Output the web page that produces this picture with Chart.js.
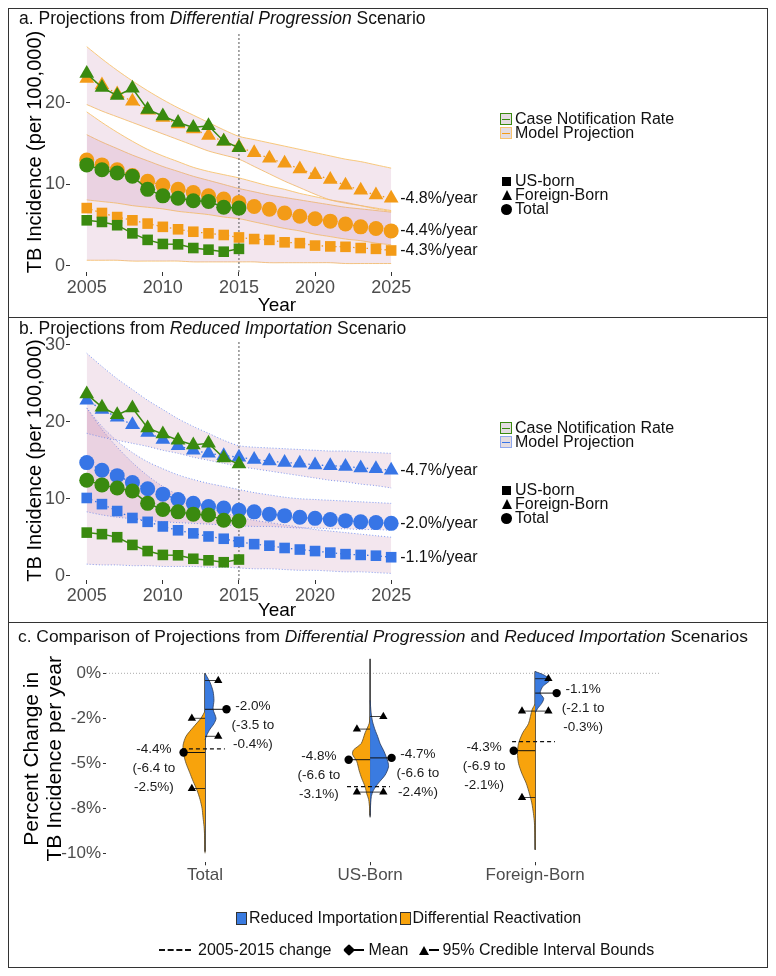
<!DOCTYPE html>
<html>
<head>
<meta charset="utf-8">
<script src="https://cdn.jsdelivr.net/npm/chart.js@4.4.1/dist/chart.umd.min.js"></script>
<style>
  body { margin: 0; background: #fff; font-family: "Liberation Sans", Arial, sans-serif; }
  #page { position: relative; width: 776px; height: 976px; overflow: hidden; }
  canvas { position: absolute; }
  .box { position: absolute; left: 8px; width: 760px; border: 1.5px solid #333; box-sizing: border-box; pointer-events: none; }
  .ttl { position: absolute; white-space: nowrap; color: #111; line-height: 20px; }
  .leg { position: absolute; font-size: 16px; color: #111; white-space: nowrap; }
  .row { display: flex; align-items: center; height: 14px; line-height: 14px; }
  .key { width: 12px; height: 12px; border: 1px solid; margin-right: 3px; position: relative; background: #e4dce1; box-sizing: border-box; }
  .key i { position: absolute; left: 1px; right: 1px; top: 4.5px; height: 1px; }
  .sym { width: 13px; margin-right: 2px; display: flex; justify-content: center; align-items: center; }
  .sq { width: 9px; height: 9px; background: #000; }
  .tri { width: 0; height: 0; border-left: 5.5px solid transparent; border-right: 5.5px solid transparent; border-bottom: 10px solid #000; }
  .dot { width: 11px; height: 11px; border-radius: 50%; background: #000; }
  .fillkey { width: 11px; height: 13px; border: 1px solid #333; box-sizing: border-box; margin-right: 2px; }
</style>
</head>
<body>
<div id="page">
  <canvas id="chartA" width="760" height="309" style="left:8px;top:8px"></canvas>
  <canvas id="chartB" width="760" height="305" style="left:8px;top:317px"></canvas>
  <canvas id="chartC" width="760" height="345" style="left:8px;top:622px"></canvas>

  <div class="box" style="top:8px;height:310px"></div>
  <div class="box" style="top:317px;height:306px"></div>
  <div class="box" style="top:622px;height:346px"></div>

  <div class="ttl" style="left:19px;top:8px;font-size:17.5px">a. Projections from <i>Differential Progression</i> Scenario</div>
  <div class="ttl" style="left:19px;top:318px;font-size:17.5px">b. Projections from <i>Reduced Importation</i> Scenario</div>
  <div class="ttl" style="left:18px;top:626px;font-size:17.4px">c. Comparison of Projections from <i>Differential Progression</i> and <i>Reduced Importation</i> Scenarios</div>

  <div class="leg" style="left:500px;top:112px">
    <div class="row"><span class="key" style="border-color:#3a8a0f"><i style="background:#3a8a0f"></i></span>Case Notification Rate</div>
    <div class="row"><span class="key" style="border-color:#f7c36e"><i style="background:#f39b17"></i></span>Model Projection</div>
  </div>
  <div class="leg" style="left:500px;top:174px">
    <div class="row"><span class="sym"><span class="sq"></span></span>US-born</div>
    <div class="row"><span class="sym"><span class="tri"></span></span>Foreign-Born</div>
    <div class="row"><span class="sym"><span class="dot"></span></span>Total</div>
  </div>

  <div class="leg" style="left:500px;top:421px">
    <div class="row"><span class="key" style="border-color:#3a8a0f"><i style="background:#3a8a0f"></i></span>Case Notification Rate</div>
    <div class="row"><span class="key" style="border-color:#8fa8ee"><i style="background:#3775e6"></i></span>Model Projection</div>
  </div>
  <div class="leg" style="left:500px;top:483px">
    <div class="row"><span class="sym"><span class="sq"></span></span>US-born</div>
    <div class="row"><span class="sym"><span class="tri"></span></span>Foreign-Born</div>
    <div class="row"><span class="sym"><span class="dot"></span></span>Total</div>
  </div>

  <div class="leg" style="left:236px;top:911px">
    <div class="row"><span class="fillkey" style="background:#3a7be0"></span>Reduced Importation<span class="fillkey" style="background:#f8a30c;margin-left:2px"></span>Differential Reactivation</div>
  </div>
  <div class="leg" style="left:159px;top:943px">
    <div class="row">
      <span style="width:32px;border-top:2px dashed #111;margin-right:7px"></span>2005-2015 change
      <span style="margin-left:13px;width:10px;height:10px;background:#000;transform:rotate(45deg) scale(0.85);border-radius:2px"></span>
      <span style="width:10px;height:1.5px;background:#000;margin-right:4px"></span>Mean
      <span class="tri" style="margin-left:11px;border-bottom-width:9px;border-left-width:5px;border-right-width:5px"></span>
      <span style="width:10px;height:1.5px;background:#000;margin-right:3px"></span>95% Credible Interval Bounds
    </div>
  </div>
</div>

<script>
// ---- panels a and b: incidence per 100,000 ----
const years = [2005, 2006, 2007, 2008, 2009, 2010, 2011, 2012, 2013, 2014, 2015,
               2016, 2017, 2018, 2019, 2020, 2021, 2022, 2023, 2024, 2025];
const notifYears = [2005, 2006, 2007, 2008, 2009, 2010, 2011, 2012, 2013, 2014, 2015];

// case notification rates (same in both panels)
const notifUS = [5.6, 5.4, 5.0, 4.0, 3.2, 2.7, 2.65, 2.2, 2.0, 1.75, 2.1];
const notifFB = [23.6, 21.9, 20.9, 21.8, 19.2, 18.4, 17.6, 17.0, 17.2, 15.3, 14.5];
const notifTotal = [12.4, 11.8, 11.4, 11.0, 9.4, 8.6, 8.3, 8.0, 7.9, 7.2, 7.1];

// differential progression projections
const dpUS = [7.1, 6.5, 6.0, 5.6, 5.2, 4.8, 4.5, 4.2, 4.0, 3.8, 3.5, 3.3, 3.2, 2.9, 2.8, 2.5, 2.4, 2.35, 2.2, 2.1, 1.9];
const dpFB = [23.0, 22.2, 21.1, 20.2, 19.1, 18.2, 17.4, 16.8, 16.0, 15.3, 14.6, 13.9, 13.2, 12.6, 11.9, 11.2, 10.6, 9.9, 9.3, 8.7, 8.3];
const dpTotal = [13.0, 12.4, 11.8, 11.1, 10.4, 9.9, 9.4, 9.0, 8.6, 8.2, 7.8, 7.3, 6.95, 6.5, 6.1, 5.8, 5.5, 5.15, 4.8, 4.6, 4.3];
const dpFBHi = [26.9, 25.4, 24.0, 22.7, 21.5, 20.4, 19.4, 18.5, 17.6, 16.7, 15.9, 15.5, 15.1, 14.7, 14.3, 13.9, 13.5, 13.1, 12.8, 12.4, 12.0];
const dpFBLo = [19.8, 19.0, 18.3, 17.6, 16.9, 16.2, 15.5, 14.8, 14.1, 13.6, 13.1, 12.2, 11.3, 10.4, 9.6, 8.8, 8.1, 7.7, 7.4, 7.1, 6.8];
const dpTotalHi = [18.9, 17.6, 16.4, 15.3, 14.3, 13.5, 12.8, 12.1, 11.6, 11.2, 10.8, 10.3, 9.8, 9.4, 8.9, 8.5, 8.1, 7.8, 7.4, 7.0, 6.7];
const dpTotalLo = [8.1, 7.9, 7.7, 7.4, 7.2, 7.0, 6.7, 6.5, 6.3, 6.0, 5.8, 5.4, 5.0, 4.6, 4.3, 3.9, 3.6, 3.3, 3.1, 2.8, 2.6];
const dpUSHi = [16.1, 15.2, 14.4, 13.6, 12.9, 12.2, 11.6, 11.0, 10.5, 10.0, 9.5, 9.1, 8.7, 8.4, 8.1, 7.8, 7.5, 7.2, 7.0, 6.8, 6.6];
const dpUSLo = [0.7, 0.7, 0.7, 0.6, 0.6, 0.6, 0.6, 0.5, 0.5, 0.5, 0.5, 0.5, 0.4, 0.4, 0.4, 0.4, 0.4, 0.3, 0.3, 0.3, 0.3];

// reduced importation projections
const riUS = [10.1, 9.3, 8.4, 7.5, 7.0, 6.4, 5.9, 5.5, 5.1, 4.8, 4.4, 4.1, 3.9, 3.6, 3.4, 3.2, 3.0, 2.8, 2.7, 2.6, 2.4];
const riFB = [22.8, 21.6, 20.6, 19.6, 18.6, 17.7, 16.9, 16.3, 15.9, 15.6, 15.4, 15.1, 14.9, 14.7, 14.6, 14.4, 14.3, 14.2, 14.0, 13.9, 13.7];
const riTotal = [14.7, 13.7, 13.0, 12.1, 11.3, 10.6, 9.9, 9.4, 9.0, 8.8, 8.5, 8.3, 8.0, 7.8, 7.6, 7.45, 7.3, 7.15, 7.0, 6.9, 6.8];
const riFBHi = [28.9, 27.2, 25.6, 24.2, 22.8, 21.6, 20.4, 19.4, 18.5, 17.6, 16.9, 16.7, 16.6, 16.5, 16.4, 16.3, 16.2, 16.2, 16.1, 16.0, 15.9];
const riFBLo = [18.5, 18.0, 17.6, 17.2, 16.8, 16.3, 15.9, 15.4, 15.0, 14.6, 14.2, 13.9, 13.6, 13.3, 13.0, 12.7, 12.4, 12.2, 11.9, 11.7, 11.4];
const riTotalHi = [21.8, 19.4, 17.5, 16.0, 14.8, 13.9, 13.1, 12.5, 12.0, 11.6, 11.2, 10.8, 10.5, 10.2, 10.0, 9.9, 9.8, 9.7, 9.6, 9.5, 9.4];
const riTotalLo = [8.3, 7.9, 7.6, 7.4, 7.2, 7.0, 6.9, 6.8, 6.7, 6.6, 6.5, 6.4, 6.4, 6.3, 6.2, 6.2, 6.1, 6.1, 6.0, 6.0, 5.9];
const riUSHi = [21.8, 19.0, 16.7, 14.7, 13.0, 11.6, 10.5, 9.6, 8.8, 8.2, 7.6, 7.2, 6.9, 6.6, 6.3, 6.0, 5.8, 5.6, 5.4, 5.2, 5.0];
const riUSLo = [1.5, 1.4, 1.4, 1.3, 1.3, 1.2, 1.2, 1.2, 1.1, 1.1, 1.0, 0.9, 0.9, 0.8, 0.7, 0.7, 0.6, 0.5, 0.5, 0.4, 0.3];

const rateLabelsDP = ['-4.8%/year', '-4.4%/year', '-4.3%/year'];  // FB, total, US
const rateLabelsRI = ['-4.7%/year', '-2.0%/year', '-1.1%/year'];
const xTicksAB = [2005, 2010, 2015, 2020, 2025];
const yTicksA = [0, 10, 20];
const yTicksB = [0, 10, 20, 30];
const splitYear = 2015;

// ---- panel c: percent change per year ----
const groups = ['Total', 'US-Born', 'Foreign-Born'];
const riMean = [-2.0, -4.7, -1.1];
const riLo = [-3.5, -6.6, -2.1];
const riHi = [-0.4, -2.4, -0.3];
const drMean = [-4.4, -4.8, -4.3];
const drLo = [-6.4, -6.6, -6.9];
const drHi = [-2.5, -3.1, -2.1];
const obsChange = [-4.2, -6.3, -3.8];
const tailTop = [0.0, 0.8, 0.1];
const tailBottom = [-9.9, -7.9, -9.8];
const riLevels = [
  [0.0, -0.2, -0.5, -1.0, -1.5, -2.0, -2.5, -2.8, -3.1, -3.4, -3.7],
  [-1.5, -2.2, -2.7, -3.15, -3.5, -3.9, -4.35, -4.9, -5.2, -5.65, -6.1, -6.5, -6.85, -7.5, -8.0],
  [0.1, -0.1, -0.37, -0.74, -1.1, -1.4, -1.67, -1.95, -2.2]
];
const riDensity = [
  [0, 0.034, 0.084, 0.135, 0.15, 0.135, 0.185, 0.15, 0.084, 0.034, 0],
  [0, 0.017, 0.042, 0.084, 0.126, 0.168, 0.236, 0.298, 0.31, 0.253, 0.14, 0.056, 0.02, 0.005, 0],
  [0, 0.15, 0.25, 0.126, 0.084, 0.143, 0.11, 0.042, 0]
];
const drLevels = [
  [-2.1, -2.5, -3.0, -3.5, -4.0, -4.5, -5.0, -5.5, -6.0, -6.5, -7.0, -7.5, -8.0, -8.5, -9.0, -10.0],
  [-2.4, -2.8, -3.3, -3.9, -4.26, -4.5, -4.9, -5.4, -5.85, -6.3, -6.7, -7.0, -7.5, -8.0],
  [-1.7, -2.0, -2.8, -3.3, -3.9, -4.45, -5.0, -5.55, -6.1, -6.7, -7.2, -7.8, -8.3, -9.0, -9.8]
];
const drDensity = [
  [0, 0.07, 0.2, 0.32, 0.37, 0.36, 0.32, 0.26, 0.2, 0.135, 0.085, 0.05, 0.034, 0.017, 0.008, 0],
  [0, 0.017, 0.084, 0.15, 0.28, 0.296, 0.224, 0.185, 0.14, 0.084, 0.056, 0.025, 0.008, 0],
  [0, 0.05, 0.113, 0.209, 0.281, 0.298, 0.281, 0.226, 0.152, 0.096, 0.057, 0.029, 0.013, 0.005, 0]
];
const yTicksC = [0, -2.5, -5, -7.5, -10];
const yTickLabelsC = ['0%', '-2%', '-5%', '-8%', '-10%'];

// ---- styles ----
const GREEN = '#3a8a0f';
const ORANGE = '#f39b17';
const BLUE = '#3775e6';
const BAND = 'rgba(195, 130, 170, 0.2)';
const FONT = '"Liberation Sans", Arial, sans-serif';
const TICK_GREY = '#4d4d4d';
Chart.defaults.font.family = FONT;

const pts = (xs, ys) => xs.map((x, i) => ({x: x, y: ys[i]}));

function markerSet(xs, ys, color, shape, dashed) {
  return {
    data: pts(xs, ys),
    borderColor: color, backgroundColor: color,
    borderWidth: dashed ? 1.3 : 1.5,
    borderDash: dashed ? [1.5, 3] : [],
    pointStyle: shape,
    pointRadius: shape === 'circle' ? 7.5 : (shape === 'triangle' ? 8.5 : 7.5),
    pointBorderWidth: 0,
    fill: false
  };
}

function bandPair(hi, lo, edge, edgeDash) {
  return [
    {data: pts(years, hi), borderColor: edge, borderWidth: 0.9, borderDash: edgeDash, pointRadius: 0,
     backgroundColor: BAND, fill: '+1', tension: 0.3},
    {data: pts(years, lo), borderColor: edge, borderWidth: 0.9, borderDash: edgeDash, pointRadius: 0,
     fill: false, tension: 0.3}
  ];
}

const rateLabelPlugin = {
  id: 'rateLabels',
  afterDatasetsDraw(chart) {
    const ctx = chart.ctx;
    ctx.save();
    ctx.font = '16px ' + FONT;
    ctx.fillStyle = '#111';
    ctx.textAlign = 'left';
    ctx.textBaseline = 'middle';
    chart.data.datasets.forEach((ds, i) => {
      if (!ds.rateLabel) return;
      const meta = chart.getDatasetMeta(i);
      const last = meta.data[meta.data.length - 1];
      ctx.fillText(ds.rateLabel, last.x + 9, last.y);
    });
    ctx.restore();
  }
};

function projectionChart(id, proj, bands, labels, yMin, yMax, yTicks, projColor, bandEdge, bandDash, plotTop, xHeight) {
  const datasets = [
    markerSet(notifYears, notifFB, GREEN, 'triangle', false),
    markerSet(notifYears, notifTotal, GREEN, 'circle', false),
    markerSet(notifYears, notifUS, GREEN, 'rect', false),
    Object.assign(markerSet(years, proj[0], projColor, 'triangle', true), {rateLabel: labels[0]}),
    Object.assign(markerSet(years, proj[1], projColor, 'circle', true), {rateLabel: labels[1]}),
    Object.assign(markerSet(years, proj[2], projColor, 'rect', true), {rateLabel: labels[2]}),
    {data: [{x: splitYear, y: yMin}, {x: splitYear, y: yMax}], borderColor: '#555', borderWidth: 1,
     borderDash: [2, 2], pointRadius: 0, fill: false},
    ...bandPair(bands[0], bands[1], bandEdge, bandDash),
    ...bandPair(bands[2], bands[3], bandEdge, bandDash),
    ...bandPair(bands[4], bands[5], bandEdge, bandDash)
  ];
  return new Chart(document.getElementById(id), {
    type: 'line',
    data: {datasets: datasets},
    plugins: [rateLabelPlugin],
    options: {
      responsive: false, animation: false, events: [],
      layout: {padding: {top: plotTop, right: 284, left: 0, bottom: 0}},
      plugins: {legend: {display: false}, tooltip: {enabled: false}},
      scales: {
        x: {
          type: 'linear', min: 2003.9, max: 2031.1,
          afterBuildTicks: s => { s.ticks = xTicksAB.map(v => ({value: v})); },
          afterFit: s => { s.height = xHeight; },
          border: {display: false},
          grid: {drawOnChartArea: false, tickLength: 4, color: '#333'},
          ticks: {color: TICK_GREY, font: {size: 18}, padding: 1, maxRotation: 0, autoSkip: false, callback: v => String(v)},
          title: {display: true, text: 'Year', color: '#000', font: {size: 19}, padding: 0}
        },
        y: {
          min: yMin, max: yMax,
          afterBuildTicks: s => { s.ticks = yTicks.map(v => ({value: v})); },
          afterFit: s => { s.width = 62; },
          border: {display: false},
          grid: {drawOnChartArea: false, tickLength: 4, color: '#333'},
          ticks: {color: TICK_GREY, font: {size: 18}, padding: 1, callback: v => String(v)},
          title: {display: true, text: 'TB Incidence (per 100,000)', color: '#000', font: {size: 20}, padding: {top: 15, bottom: 0}}
        }
      }
    }
  });
}

projectionChart('chartA', [dpFB, dpTotal, dpUS],
  [dpFBHi, dpFBLo, dpTotalHi, dpTotalLo, dpUSHi, dpUSLo],
  rateLabelsDP, -0.74, 28.7, yTicksA, ORANGE, '#f7c36e', [], 24, 45);

projectionChart('chartB', [riFB, riTotal, riUS],
  [riFBHi, riFBLo, riTotalHi, riTotalLo, riUSHi, riUSLo],
  rateLabelsRI, -0.56, 30.5, yTicksB, BLUE, '#6f8ff0', [1, 2], 24, 42);

// ---- panel c ----
const C_BLUE = '#3a7be0';
const C_ORANGE = '#f8a30c';
const densScale = 0.36;
const meanDx = 0.13;
const ciDx = 0.08;
const labelDx = 0.3;

function seg(x0, x1, y, dash, width) {
  return {data: [{x: x0, y: y}, {x: x1, y: y}], borderColor: '#111', borderWidth: width,
          borderDash: dash, pointRadius: 0, fill: false};
}

const cSets = [];
// markers on top
cSets.push({data: groups.map((g, i) => ({x: i + 1 + meanDx, y: riMean[i]}))
  .concat(groups.map((g, i) => ({x: i + 1 - meanDx, y: drMean[i]}))),
  showLine: false, pointStyle: 'circle', pointRadius: 4.2, backgroundColor: '#000', borderColor: '#000', pointBorderWidth: 0});
cSets.push({data: groups.flatMap((g, i) => [
    {x: i + 1 + ciDx, y: riLo[i]}, {x: i + 1 + ciDx, y: riHi[i]},
    {x: i + 1 - ciDx, y: drLo[i]}, {x: i + 1 - ciDx, y: drHi[i]}]),
  showLine: false, pointStyle: 'triangle', pointRadius: 4.8, backgroundColor: '#000', borderColor: '#000', pointBorderWidth: 0});
groups.forEach((g, i) => {
  const c = i + 1;
  cSets.push(seg(c, c + meanDx, riMean[i], [], 1));
  cSets.push(seg(c - meanDx, c, drMean[i], [], 1));
  cSets.push(seg(c, c + ciDx, riLo[i], [], 0.8));
  cSets.push(seg(c, c + ciDx, riHi[i], [], 0.8));
  cSets.push(seg(c - ciDx, c, drLo[i], [], 0.8));
  cSets.push(seg(c - ciDx, c, drHi[i], [], 0.8));
  cSets.push(seg(c - 0.14, c + 0.12, obsChange[i], [4, 3], 1.3));
});
groups.forEach((g, i) => {
  const c = i + 1;
  cSets.push({data: riLevels[i].map((y, k) => ({x: c + riDensity[i][k] * densScale, y: y})),
    fill: 'shape', backgroundColor: C_BLUE, borderColor: '#2a3a5a', borderWidth: 0.8, pointRadius: 0, tension: 0.25});
  cSets.push({data: drLevels[i].map((y, k) => ({x: c - drDensity[i][k] * densScale, y: y})),
    fill: 'shape', backgroundColor: C_ORANGE, borderColor: '#5a4a2a', borderWidth: 0.8, pointRadius: 0, tension: 0.25});
});
groups.forEach((g, i) => {
  cSets.push({data: [{x: i + 1, y: tailTop[i]}, {x: i + 1, y: tailBottom[i]}],
    borderColor: '#444', borderWidth: 1, pointRadius: 0, fill: false});
});
cSets.push({data: [{x: 0.4, y: 0}, {x: 3.75, y: 0}], borderColor: '#aaa', borderWidth: 1,
  borderDash: [1, 2], pointRadius: 0, fill: false});

const fmt = v => v.toFixed(1);
const violinLabelPlugin = {
  id: 'violinLabels',
  afterDatasetsDraw(chart) {
    const {ctx, scales: {x, y}} = chart;
    ctx.save();
    ctx.font = '13.5px ' + FONT;
    ctx.fillStyle = '#1a1a1a';
    ctx.textAlign = 'center';
    ctx.textBaseline = 'middle';
    groups.forEach((g, i) => {
      [[drMean, drLo, drHi, -labelDx - 0.01], [riMean, riLo, riHi, labelDx - 0.01]].forEach(([m, lo, hi, dx]) => {
        const px = x.getPixelForValue(i + 1 + dx);
        const py = y.getPixelForValue(m[i]) - 3.5;
        [fmt(m[i]) + '%', '(' + fmt(lo[i]) + ' to', fmt(hi[i]) + '%)'].forEach((t, k) => ctx.fillText(t, px, py + k * 19));
      });
    });
    ctx.restore();
  }
};

new Chart(document.getElementById('chartC'), {
  type: 'line',
  data: {datasets: cSets},
  plugins: [violinLabelPlugin],
  options: {
    responsive: false, animation: false, events: [],
    layout: {padding: {top: 33.3, right: 109, left: 0, bottom: 0}},
    plugins: {legend: {display: false}, tooltip: {enabled: false}},
    scales: {
      x: {
        type: 'linear', min: 0.4, max: 3.75,
        afterBuildTicks: s => { s.ticks = groups.map((g, i) => ({value: i + 1})); },
        afterFit: s => { s.height = 104.7; },
        border: {display: false},
        grid: {drawOnChartArea: false, tickLength: 3, color: '#333'},
        ticks: {color: TICK_GREY, font: {size: 17}, padding: 0, maxRotation: 0, autoSkip: false,
                callback: v => groups[Math.round(v) - 1]}
      },
      y: {
        min: -10.5, max: 1.0,
        afterBuildTicks: s => { s.ticks = yTicksC.map(v => ({value: v})); },
        afterFit: s => { s.width = 98; },
        border: {display: false},
        grid: {drawOnChartArea: false, tickLength: 3, color: '#333'},
        ticks: {color: TICK_GREY, font: {size: 17}, padding: 2,
                callback: (v, idx) => yTickLabelsC[idx]},
        title: {display: true, text: ['Percent Change in', 'TB Incidence per year'], color: '#000',
                font: {size: 21, lineHeight: 1.1}, padding: {top: 12.5, bottom: 0}}
      }
    }
  }
});
</script>
</body>
</html>
